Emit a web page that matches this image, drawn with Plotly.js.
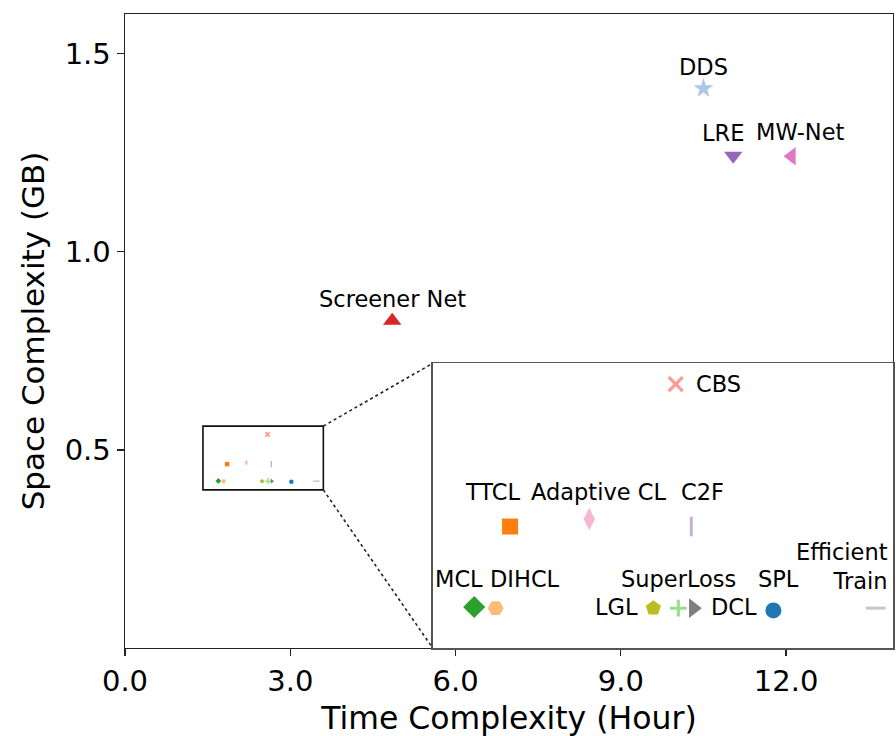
<!DOCTYPE html>
<html>
<head>
<meta charset="utf-8">
<script src="https://cdn.plot.ly/plotly-3.0.1.min.js"></script>
<style>html,body{margin:0;padding:0;background:#fff;}</style>
</head>
<body>
<div id="chart" style="width:896px;height:736px;"></div>
<script>
// ---- data ----
const insetNames = ['CBS', 'TTCL', 'Adaptive CL', 'C2F', 'MCL', 'DIHCL', 'LGL', 'SuperLoss', 'DCL', 'SPL', 'Efficient<br>Train'];
const insetTime  = [2.587, 1.853, 2.204, 2.656, 1.694, 1.789, 2.488, 2.599, 2.665, 3.020, 3.474];
const insetSpace = [0.539, 0.464, 0.468, 0.464, 0.4216, 0.421, 0.421, 0.421, 0.421, 0.4198, 0.421];

const mainNames = ['DDS', 'LRE', 'MW-Net', 'Screener Net'];
const mainTime  = [10.50, 11.04, 12.10, 4.85];
const mainSpace = [1.412, 1.242, 1.241, 0.826];

const xTickVals = [0, 3, 6, 9, 12];
const yTickVals = [0.5, 1.0, 1.5];

// ---- styles ----
const insetStyle = [
  {symbol: 'x-thin-open', color: '#ff9896', size: 14, lw: 3.2},
  {symbol: 'square', color: '#ff7f0e', size: 16},
  {symbol: 'diamond-tall', color: '#f7b6d2', size: 16},
  {symbol: 'line-ns-open', color: '#c5b0d5', size: 14, lw: 3},
  {symbol: 'diamond', color: '#2ca02c', size: 17},
  {symbol: 'hexagon2', color: '#ffbb78', size: 16},
  {symbol: 'pentagon', color: '#bcbd22', size: 16},
  {symbol: 'cross-thin-open', color: '#98df8a', size: 12, lw: 3},
  {symbol: 'triangle-right', color: '#7f7f7f', size: 17},
  {symbol: 'circle', color: '#1f77b4', size: 16},
  {symbol: 'line-ew-open', color: '#c7c7c7', size: 14, lw: 3}
];
// label offsets in px: [xanchor, xshift, yshift]
const insetLabelPos = [
  ['left', 18, 0], ['center', -18, 35], ['center', 9, 27], ['center', 11, 35],
  ['center', -15, 28], ['center', 29, 29], ['right', -13, 1], ['center', 0, 29],
  ['left', 16, 1], ['center', 5, 31], ['right', 14, 42]
];
const mainStyle = [
  {symbol: 'star', color: '#aec7e8', size: 15},
  {symbol: 'triangle-down', color: '#9467bd', size: 16},
  {symbol: 'triangle-left', color: '#e377c2', size: 16},
  {symbol: 'triangle-up', color: '#d62728', size: 16}
];
const mainLabelPos = [
  ['center', 0, 22], ['center', -10, 23], ['center', 9, 24], ['center', 0, 22]
];

const FONT = 'DejaVu Sans, Liberation Sans, sans-serif';
const xRange = [0, 13.94], yRange = [0, 1.6];
const inXRange = [1.51, 3.55], inYRange = [0.40, 0.55];
const inDomX = [0.4006, 1], inDomY = [0, 0.449];
const rectX = [1.415, 3.6], rectY = [0.399, 0.56];

const traces = [];
const annotations = [];

function markerFor(st, sizeOverride) {
  const m = {symbol: st.symbol, color: st.color, size: sizeOverride || st.size};
  if (st.lw) {
    m.line = {color: st.color, width: sizeOverride ? Math.max(1, st.lw * 0.5) : st.lw};
  } else {
    m.line = {width: 0};
  }
  return m;
}

// main large points
mainNames.forEach((n, i) => {
  traces.push({
    type: 'scatter', mode: 'markers', x: [mainTime[i]], y: [mainSpace[i]],
    xaxis: 'x', yaxis: 'y', marker: markerFor(mainStyle[i]), showlegend: false, hoverinfo: 'skip'
  });
  annotations.push({
    xref: 'x', yref: 'y', x: mainTime[i], y: mainSpace[i], text: n, showarrow: false,
    xanchor: mainLabelPos[i][0], yanchor: 'middle', xshift: mainLabelPos[i][1], yshift: mainLabelPos[i][2],
    font: {family: FONT, size: 22.5, color: '#000'}
  });
});

// small points in main axes + big points in inset
insetNames.forEach((n, i) => {
  traces.push({
    type: 'scatter', mode: 'markers', x: [insetTime[i]], y: [insetSpace[i]],
    xaxis: 'x', yaxis: 'y', marker: markerFor(insetStyle[i], 4.5), showlegend: false, hoverinfo: 'skip'
  });
  traces.push({
    type: 'scatter', mode: 'markers', x: [insetTime[i]], y: [insetSpace[i]],
    xaxis: 'x2', yaxis: 'y2', marker: markerFor(insetStyle[i]), showlegend: false, hoverinfo: 'skip'
  });
  annotations.push({
    xref: 'x2', yref: 'y2', x: insetTime[i], y: insetSpace[i], text: n, showarrow: false,
    xanchor: insetLabelPos[i][0], yanchor: 'middle', align: insetLabelPos[i][0] === 'right' ? 'right' : 'center',
    xshift: insetLabelPos[i][1], yshift: insetLabelPos[i][2],
    font: {family: FONT, size: 22.5, color: '#000'}
  });
});

// inset corners in main data coordinates
const inLeft = xRange[0] + inDomX[0] * (xRange[1] - xRange[0]);
const inTop = yRange[0] + inDomY[1] * (yRange[1] - yRange[0]);
const inBottom = yRange[0] + inDomY[0] * (yRange[1] - yRange[0]);

const shapes = [
  {type: 'rect', xref: 'x', yref: 'y', x0: rectX[0], x1: rectX[1], y0: rectY[0], y1: rectY[1],
   line: {color: '#111', width: 1.6}},
  {type: 'line', xref: 'x', yref: 'y', x0: rectX[1], y0: rectY[1], x1: inLeft, y1: inTop,
   line: {color: '#222', width: 1.6, dash: 'dot'}},
  {type: 'line', xref: 'x', yref: 'y', x0: rectX[1], y0: rectY[0], x1: inLeft, y1: inBottom,
   line: {color: '#222', width: 1.6, dash: 'dot'}}
];

const layout = {
  width: 896, height: 736,
  margin: {l: 125, r: 3, t: 14, b: 88},
  paper_bgcolor: '#fff', plot_bgcolor: '#fff',
  font: {family: FONT, color: '#000'},
  showlegend: false,
  xaxis: {
    domain: [0, 1], range: xRange, tickvals: xTickVals, tickformat: '.1f',
    ticks: 'outside', ticklen: 7, tickwidth: 1.3, tickcolor: '#222',
    showline: true, mirror: true, linecolor: '#222', linewidth: 1.4,
    showgrid: false, zeroline: false,
    tickfont: {family: FONT, size: 29, color: '#000'},
    title: {text: 'Time Complexity (Hour)', font: {family: FONT, size: 31.5, color: '#000'}, standoff: 9},
    automargin: false, anchor: 'y'
  },
  yaxis: {
    domain: [0, 1], range: yRange, tickvals: yTickVals, tickformat: '.1f',
    ticks: 'outside', ticklen: 7, tickwidth: 1.3, tickcolor: '#222',
    showline: true, mirror: true, linecolor: '#222', linewidth: 1.4,
    showgrid: false, zeroline: false,
    tickfont: {family: FONT, size: 29, color: '#000'},
    title: {text: 'Space Complexity (GB)', font: {family: FONT, size: 31, color: '#000'}, standoff: 11},
    automargin: false, anchor: 'x'
  },
  xaxis2: {
    domain: inDomX, range: inXRange, anchor: 'y2',
    showticklabels: false, ticks: '', showgrid: false, zeroline: false,
    showline: true, mirror: true, linecolor: '#555', linewidth: 1.5
  },
  yaxis2: {
    domain: inDomY, range: inYRange, anchor: 'x2',
    showticklabels: false, ticks: '', showgrid: false, zeroline: false,
    showline: true, mirror: true, linecolor: '#555', linewidth: 1.5
  },
  shapes: shapes,
  annotations: annotations
};

Plotly.newPlot('chart', traces, layout, {staticPlot: true, displayModeBar: false});
</script>
</body>
</html>
